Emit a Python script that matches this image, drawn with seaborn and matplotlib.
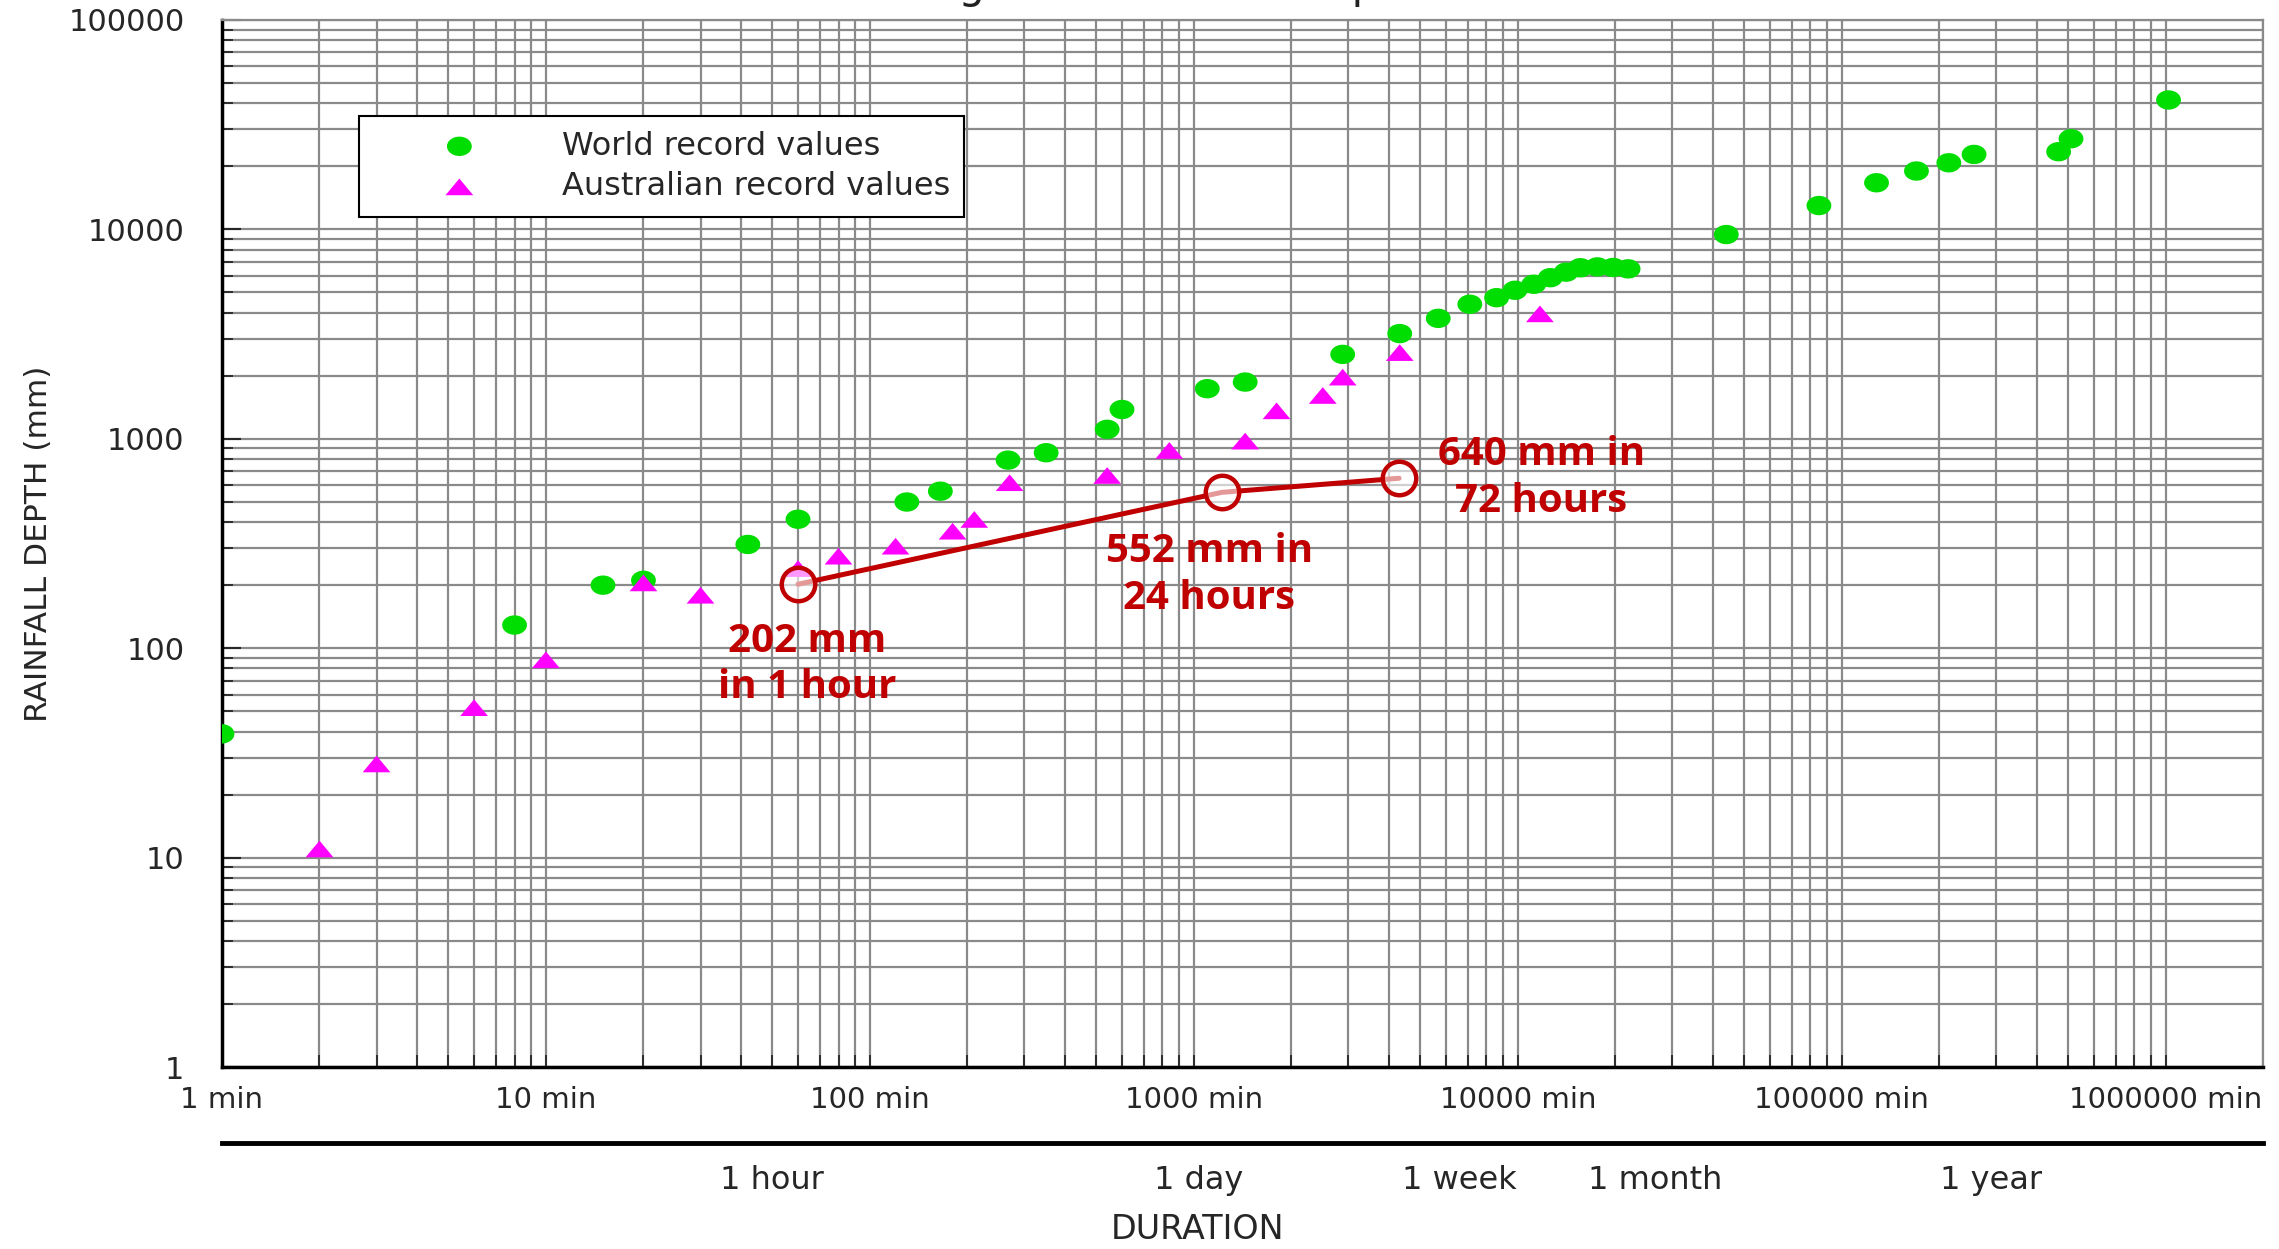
import numpy as np
import matplotlib
matplotlib.use("Agg")
import matplotlib.pyplot as plt
from matplotlib.markers import MarkerStyle
from matplotlib.path import Path
from matplotlib.ticker import LogLocator, NullLocator, NullFormatter
from matplotlib.transforms import blended_transform_factory
import seaborn as sns

# durations in minutes, depths in mm
world_min = [1, 8, 15, 20, 42, 60, 130, 165, 267, 350, 540, 600, 1100, 1440,
             2880, 4320, 5680, 7110, 8600, 9800, 11200, 12600, 14100, 15600,
             17600, 19700, 21900, 44000, 85000, 128000, 170000, 214000,
             256000, 467000, 510000, 1020000]
world_mm = [39, 129, 200, 211, 313, 413, 499, 562, 791, 858, 1110, 1380, 1735,
            1866, 2530, 3180, 3760, 4390, 4720, 5120, 5470, 5880, 6250, 6560,
            6620, 6580, 6480, 9450, 13000, 16700, 19000, 20800, 22800, 23500,
            27100, 41500]

aus_min = [2, 3, 6, 10, 20, 30, 60, 80, 120, 180, 210, 270, 540, 840, 1440,
           1800, 2500, 2880, 4320, 11700]
aus_mm = [11, 28, 52, 88, 205, 179, 240, 275, 307, 362, 412, 617, 668, 880,
          975, 1360, 1610, 1970, 2580, 3950]

# highlighted event
event_min = [60, 1220, 4300]
event_mm = [202, 555, 648]
event_text = ["202 mm\nin 1 hour", "552 mm in\n24 hours", "640 mm in\n72 hours"]

x_ticks = [1, 10, 100, 1000, 10000, 100000, 1000000]
x_labels = ["1 min", "10 min", "100 min", "1000 min", "10000 min",
            "100000 min", "1000000 min"]
y_ticks = [1, 10, 100, 1000, 10000, 100000]
y_labels = ["1", "10", "100", "1000", "10000", "100000"]

dur_ticks = [60, 1440, 10080, 43200, 525600]
dur_labels = ["1 hour", "1 day", "1 week", "1 month", "1 year"]

sns.set_style("white")
plt.rcParams["font.family"] = ["DejaVu Sans"]

GREEN = "#00dd00"
PINK = "#ff00ff"
RED = "#c00000"
GRID = "#8a8a8a"

t = np.linspace(0, 2 * np.pi, 41)
blob = MarkerStyle(Path(np.column_stack([np.cos(t), 0.78 * np.sin(t)]), closed=True))
tri = MarkerStyle(Path([(-1, -0.6), (1, -0.6), (0, 0.6), (-1, -0.6)], closed=True))

fig = plt.figure(figsize=(22.79, 12.49), dpi=100)
L, B, W, H = 0.0974, 0.1457, 0.8957, 0.8383
ax = fig.add_axes([L, B, W, H])

sns.scatterplot(x=world_min, y=world_mm, marker=blob, s=320, color=GREEN,
                edgecolor="none", linewidth=0, label="World record values",
                ax=ax, zorder=3)
sns.scatterplot(x=aus_min, y=aus_mm, marker=tri, s=400, color=PINK,
                edgecolor="none", linewidth=0, label="Australian record values",
                ax=ax, zorder=3)

# red event line with open circles
sns.lineplot(x=event_min, y=event_mm, sort=False, color=RED, linewidth=3.6,
             ax=ax, zorder=4, legend=False)
ax.scatter(event_min, event_mm, s=580, facecolors=(1, 1, 1, 0.6),
           edgecolors=RED, linewidths=3.2, zorder=5)

txt_pos = [(0.2866, 0.3844), (0.4836, 0.4699), (0.6462, 0.5626)]
for (tx, ty), s in zip(txt_pos, event_text):
    ax.text(tx, ty, s, transform=ax.transAxes, ha="center", va="center",
            multialignment="center", fontsize=29, fontweight="bold",
            color=RED, family="Open Sans", linespacing=1.25, zorder=6)

ax.set_xscale("log")
ax.set_yscale("log")
ax.set_xlim(1, 2e6)
ax.set_ylim(1, 1e5)
ax.set_xticks(x_ticks, x_labels)
ax.set_yticks(y_ticks, y_labels)
ax.xaxis.set_minor_locator(LogLocator(base=10, subs=np.arange(2, 10), numticks=20))
ax.yaxis.set_minor_locator(LogLocator(base=10, subs=np.arange(2, 10), numticks=20))
ax.xaxis.set_minor_formatter(NullFormatter())
ax.yaxis.set_minor_formatter(NullFormatter())

ax.set_axisbelow(True)
ax.grid(True, which="both", color=GRID, linewidth=1.6)
ax.tick_params(axis="y", which="major", direction="in", length=14, width=1.5,
               pad=27, labelsize=22, left=True)
ax.tick_params(axis="y", which="minor", direction="in", length=8, width=1.3,
               left=True)
ax.tick_params(axis="x", which="both", direction="in", length=9, width=1.3,
               pad=14, labelsize=21, bottom=True)
for side in ["left", "bottom"]:
    ax.spines[side].set_color("black")
    ax.spines[side].set_linewidth(2.5)
for side in ["top", "right"]:
    ax.spines[side].set_color(GRID)
    ax.spines[side].set_linewidth(1.6)

ax.set_ylabel("RAINFALL DEPTH (mm)", fontsize=22.5)
ax.yaxis.set_label_coords(-0.083, 0.5)
ax.set_xlabel("")

leg = ax.legend(loc="upper left", bbox_to_anchor=(0.067, 0.908), frameon=True,
                fancybox=False, edgecolor="black", framealpha=1, borderpad=0.45,
                handlelength=5.4, handletextpad=0.5, labelspacing=0.3,
                fontsize=23, scatterpoints=1, borderaxespad=0)
leg.get_frame().set_linewidth(1.5)

# second duration axis underneath
ax2 = fig.add_axes([L, 0.0849, W, 1e-4])
ax2.set_facecolor("none")
ax2.set_xscale("log")
ax2.set_xlim(1, 4.0e6)
ax2.set_xticks(dur_ticks, dur_labels)
ax2.xaxis.set_minor_locator(NullLocator())
ax2.set_yticks([])
for side in ["top", "left", "right"]:
    ax2.spines[side].set_visible(False)
ax2.spines["bottom"].set_linewidth(3.5)
ax2.spines["bottom"].set_color("black")
ax2.tick_params(axis="x", direction="in", length=11, width=1.3, pad=16,
                labelsize=23)
ax2.set_xlabel("DURATION", fontsize=24)
ax2.xaxis.set_label_coords(0.478, 0.029,
                           transform=blended_transform_factory(ax2.transAxes, fig.transFigure))

fig.text(0.533, 1.0015, "World's greatest observed point rainfalls",
         ha="center", va="baseline", fontsize=30, color="#222222")

fig.savefig("out.png", dpi=100)
